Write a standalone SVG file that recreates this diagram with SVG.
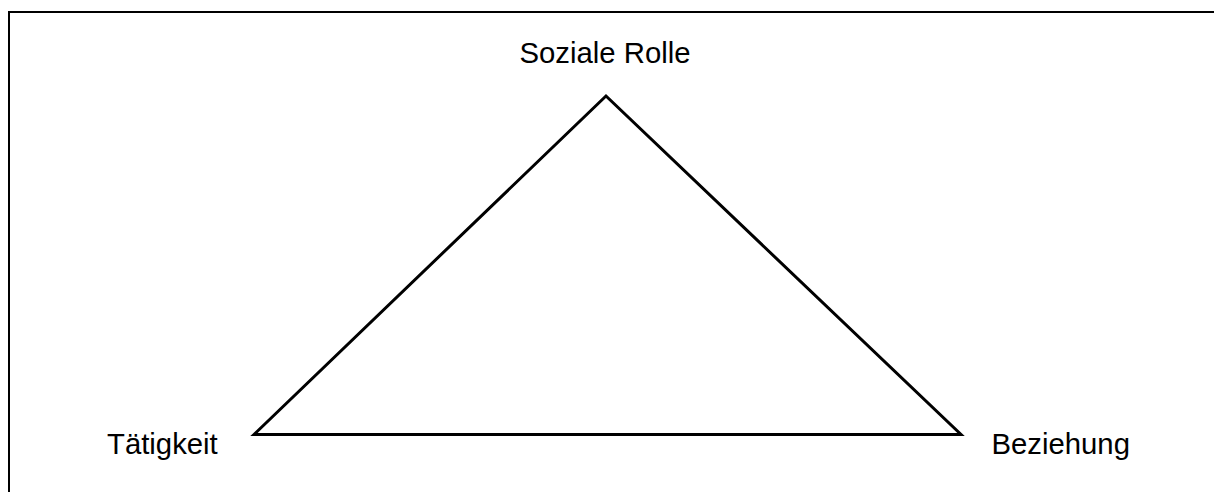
<svg xmlns="http://www.w3.org/2000/svg" width="1214" height="492" viewBox="0 0 1214 492">
<style>
.lbl{font-family:"Liberation Sans",Arial,sans-serif;font-size:29.3px;fill:#000}
.edge{fill:none;stroke:#000;stroke-width:3;stroke-linejoin:miter;stroke-miterlimit:10}
</style>
<rect x="0" y="0" width="1214" height="492" fill="#fff"/>
<rect id="frame" x="9" y="12" width="1300" height="600" fill="none" stroke="#000" stroke-width="2"/>
<g id="connectors">
<polygon class="edge" points="254,434.5 606,96 961,434.5"/>
</g>
<g id="node-soziale-rolle"><text class="lbl" x="605" y="63" text-anchor="middle">Soziale Rolle</text></g>
<g id="node-taetigkeit"><text class="lbl" x="107" y="454">Tätigkeit</text></g>
<g id="node-beziehung"><text class="lbl" x="991.5" y="454">Beziehung</text></g>
</svg>
